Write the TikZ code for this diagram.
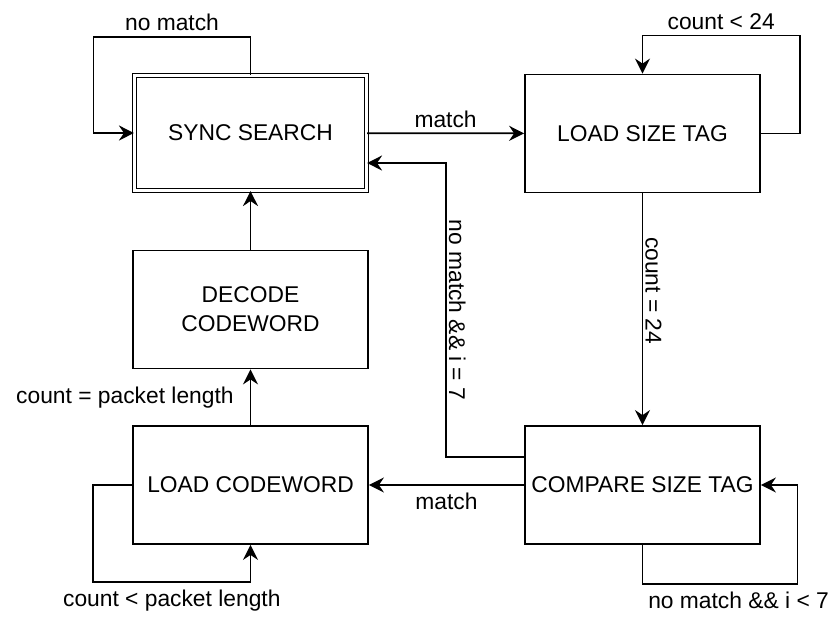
\documentclass[tikz,border=0pt]{standalone}
\usepackage{fontspec}
\setmainfont{Liberation Sans}
\usetikzlibrary{arrows.meta}

\begin{document}
\begin{tikzpicture}[x=1pt,y=-1pt,line width=1.8pt]
\tikzstyle{every node}=[font=\fontsize{22.8}{29}\selectfont]
\tikzstyle{state}=[draw,rectangle,minimum width=235pt,minimum height=118pt,inner sep=0pt,align=center]
\tikzstyle{start}=[state,double,line width=1.1pt,double distance=2.2pt,minimum width=232pt,minimum height=115pt]
\tikzstyle{arr}=[-{Stealth[length=15pt,width=15pt,inset=5pt]}]
\tikzstyle{lbl}=[inner sep=2pt]
\useasboundingbox (0,0) rectangle (837,625);
% states
\node[start] (sync) at (250.5,133) {SYNC SEARCH};
\node[state] (lst) at (642.5,133.5) {LOAD SIZE TAG};
\node[state] (dec) at (250.5,309.5) {DECODE\\CODEWORD};
\node[state] (lcw) at (250.5,485) {LOAD CODEWORD};
\node[state] (cmp) at (642.5,485) {COMPARE SIZE TAG};
% transitions
\draw[arr] (sync) -- node[lbl,above=3pt]{match} (lst);
\draw[arr] (sync.north) -- ++(0,-38) -- node[lbl,above=3pt]{no match} ++(-157,0) |- (sync.west);
\draw[arr] (lst.east) -- ++(39,0) -- ++(0,-98) -| node[lbl,pos=0.25,above=3pt]{count < 24} (lst.north);
\draw[arr] (lst) -- node[lbl,pos=0.42,rotate=-90,anchor=south]{count = 24} (cmp);
\draw[arr] ([yshift=28pt]cmp.west) -- ++(-78,0) -- node[lbl,rotate=-90,anchor=south]{no match \&\& i = 7} ++(0,-294) -- ([yshift=-30pt]sync.east);
\draw[arr] (cmp.south) -- ++(0,39) -- node[lbl,pos=0.62,below=5pt]{no match \&\& i < 7} ++(155,0) |- (cmp.east);
\draw[arr] (cmp) -- node[lbl,below=5pt]{match} (lcw);
\draw[arr] (lcw.west) -- ++(-39,0) -- ++(0,97) -| node[lbl,pos=0.25,below=5pt]{count < packet length} (lcw.south);
\draw[arr] (lcw) -- node[lbl,left=14pt]{count = packet length} (dec);
\draw[arr] (dec) -- (sync);
\end{tikzpicture}
\end{document}
